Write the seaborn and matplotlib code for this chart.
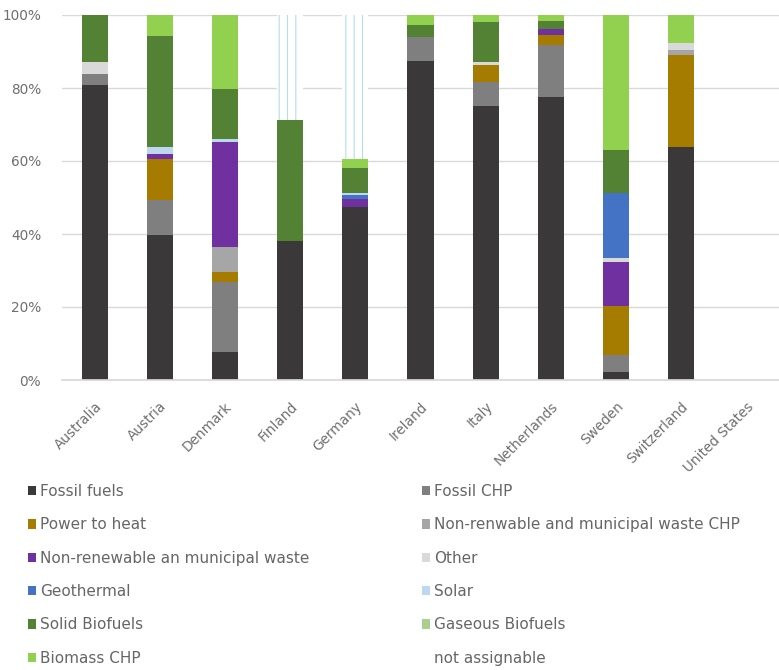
import matplotlib
matplotlib.use("Agg")
import matplotlib.pyplot as plt
from matplotlib.patches import Patch
import numpy as np
import pandas as pd
import seaborn as sns

countries = ["Australia", "Austria", "Denmark", "Finland", "Germany", "Ireland",
             "Italy", "Netherlands", "Sweden", "Switzerland", "United States"]

fossil_fuels     = [80.8, 39.7, 7.8, 38.2, 47.5, 87.5, 75.1, 77.6, 2.3, 63.9, 0]
fossil_chp       = [3.0, 9.6, 19.1, 0, 0, 6.6, 6.6, 14.2, 4.5, 0, 0]
power_to_heat    = [0, 11.2, 2.8, 0, 0, 0, 4.6, 2.7, 13.5, 25.1, 0]
nr_waste_chp     = [0, 0, 6.8, 0, 0, 0, 0, 0, 0, 1.4, 0]
nr_waste         = [0, 1.3, 28.8, 0, 2.0, 0, 0, 1.8, 12.1, 0, 0]
other            = [3.2, 0, 0, 0, 0, 0, 0.9, 0, 1.1, 1.8, 0]
geothermal       = [0, 0, 0, 0, 1.2, 0, 0, 0, 17.6, 0, 0]
solar            = [0, 1.9, 0.6, 0, 0.6, 0, 0, 0, 0, 0, 0]
solid_biofuels   = [13.0, 30.5, 13.7, 32.9, 6.7, 3.2, 11.0, 2.1, 11.9, 0, 0]
gaseous_biofuels = [0, 0, 0, 0, 0, 0, 0, 0, 0, 0, 0]
biomass_chp      = [0, 5.8, 20.4, 0, 2.5, 2.7, 1.8, 1.6, 37.0, 7.8, 0]
not_assignable   = [0, 0, 0, 28.9, 39.5, 0, 0, 0, 0, 0, 0]

series_names = ["Fossil fuels", "Fossil CHP", "Power to heat",
                "Non-renwable and municipal waste CHP",
                "Non-renewable an municipal waste", "Other", "Geothermal", "Solar",
                "Solid Biofuels", "Gaseous Biofuels", "Biomass CHP", "not assignable"]
series_values = [fossil_fuels, fossil_chp, power_to_heat, nr_waste_chp, nr_waste, other,
                 geothermal, solar, solid_biofuels, gaseous_biofuels, biomass_chp,
                 not_assignable]
colors = ["#3a3838", "#7f7f7f", "#a57c00", "#a6a6a6", "#7030a0", "#d9d9d9",
          "#4472c4", "#bdd7ee", "#548235", "#a9d18e", "#92d050", "#ffffff"]

sns.set_theme(style="white")
plt.rcParams["font.family"] = ["DejaVu Sans"]
plt.rcParams["hatch.linewidth"] = 0.8

fig = plt.figure(figsize=(7.79, 6.70), dpi=100)
ax = fig.add_axes([62 / 779, 1 - 380 / 670, 1 - 62 / 779, (380 - 15) / 670])

vals = np.array(series_values, dtype=float)
cum = np.cumsum(vals, axis=0)

# draw cumulative totals from top layer down so each lower layer covers the one above
for i in range(len(series_names) - 1, -1, -1):
    df = pd.DataFrame({"country": countries, "value": cum[i]})
    n_before = len(ax.patches)
    sns.barplot(data=df, x="country", y="value", order=countries, color=colors[i],
                width=0.4, errorbar=None, saturation=1, linewidth=0, ax=ax)
    if series_names[i] == "not assignable":
        for p in ax.patches[n_before:]:
            p.set_facecolor("white")
            p.set_edgecolor("#b5dbf0")
            p.set_hatch("||")
            p.set_linewidth(0)

ax.set_ylim(0, 100)
ax.set_xlim(-0.5, len(countries) - 0.5)
ax.set_yticks([0, 20, 40, 60, 80, 100])
ax.set_yticklabels(["0%", "20%", "40%", "60%", "80%", "100%"])
ax.yaxis.grid(True, color="#d9d9d9", linewidth=1)
ax.set_axisbelow(True)
for s in ["top", "right", "left"]:
    ax.spines[s].set_visible(False)
ax.spines["bottom"].set_color("#d9d9d9")
ax.set_xlabel("")
ax.set_ylabel("")
ax.tick_params(axis="both", length=0, colors="#6f6f6f", labelsize=9.8)
ax.tick_params(axis="y", pad=15)
ax.tick_params(axis="x", pad=14)
plt.setp(ax.get_xticklabels(), rotation=45, ha="right", rotation_mode="anchor")

handles = [Patch(facecolor=c, edgecolor="none") for c in colors]
left_idx = [0, 2, 4, 6, 8, 10]
right_idx = [1, 3, 5, 7, 9, 11]
common = dict(loc="upper left", frameon=False, handlelength=0.55, handleheight=0.55,
              handletextpad=0.25, labelspacing=1.2, fontsize=11, labelcolor="#666666",
              borderaxespad=0, borderpad=0)
fig.legend([handles[i] for i in left_idx], [series_names[i] for i in left_idx],
           bbox_to_anchor=(28 / 779, 1 - 484 / 670), **common)
fig.legend([handles[i] for i in right_idx], [series_names[i] for i in right_idx],
           bbox_to_anchor=(422 / 779, 1 - 484 / 670), **common)

fig.savefig("out.png", dpi=100)
